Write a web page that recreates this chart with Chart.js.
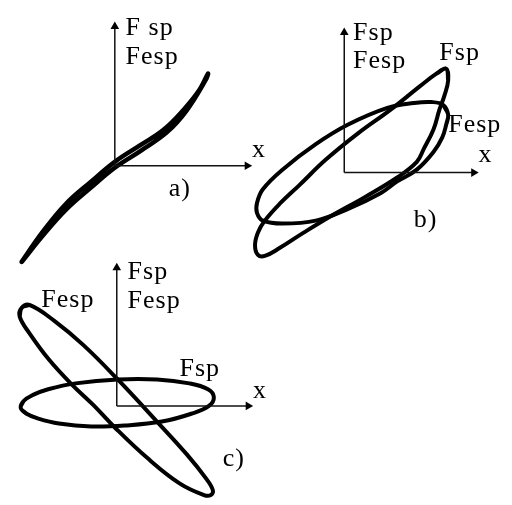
<!DOCTYPE html>
<html>
<head>
<meta charset="utf-8">
<script src="https://cdn.jsdelivr.net/npm/chart.js@4/dist/chart.umd.min.js"></script>
<style>
  html, body { margin: 0; padding: 0; background: #fff; }
  canvas { display: block; }
</style>
</head>
<body>
<canvas id="loops" width="512" height="505"></canvas>
<script>
// ------------------------------
// Data
// (local units: origin of each panel's axes, y pointing up)
// ------------------------------

// a) thin hysteresis loop, upper branch then lower branch
const loopA = [
  [-95, -98], [-74, -68], [-50, -39], [-24, -16], [0, 4], [26, 21], [50, 37],
  [70, 57], [86, 77], [95, 94],
  [93, 88], [73, 56], [53, 34], [26, 15], [0, -2], [-24, -22], [-50, -45],
  [-74, -72], [-94, -97]
];

// b) Fsp – the tall tilted ellipse
const loopBsp = [
  [104, 106], [106, 94], [102, 78], [97, 64], [91, 44], [81, 24], [74, 11],
  [54, -5], [21, -25], [-13, -44], [-41, -61], [-66, -77], [-81, -85],
  [-88, -84], [-91, -74], [-88, -61], [-81, -49], [-66, -32], [-46, -13],
  [-19, 13], [14, 40], [47, 64], [77, 88], [94, 101]
];

// b) Fesp – the flatter ellipse
const loopBesp = [
  [106, 59], [104, 49], [100, 36], [91, 21], [74, 3], [54, -9], [37, -21],
  [4, -37], [-29, -49], [-63, -52], [-83, -49], [-89, -41], [-89, -31],
  [-83, -17], [-63, 3], [-29, 29], [4, 49], [44, 66], [71, 71], [89, 72],
  [101, 69]
];

// c) Fsp – horizontal ellipse
const loopCsp = [
  [-98, -2], [-95, 5], [-86, 11], [-70, 17], [-42, 23], [1, 27], [41, 27],
  [74, 23], [93, 17], [99, 9], [94, 0], [76, -8], [46, -16], [8, -20],
  [-26, -21], [-59, -18], [-80, -13], [-92, -8]
];

// c) Fesp – ellipse falling to the right
const loopCesp = [
  [-97, 100], [-89, 103], [-64, 87], [-34, 62], [1, 27], [41, -16], [71, -49],
  [91, -74], [98, -86], [96, -91], [89, -91], [64, -79], [31, -53], [-2, -22],
  [-24, 1], [-46, 22], [-69, 47], [-89, 74], [-99, 91]
];

// axis lengths (x axis, y axis) of each panel
const axisLenA = [140, 147];
const axisLenB = [137, 148];
const axisLenC = [139, 146];

// texts of each panel
const textA = ['F sp', 'Fesp', 'x', 'a)'];
const textB = ['Fsp', 'Fesp', 'Fsp', 'Fesp', 'x', 'b)'];
const textC = ['Fsp', 'Fesp', 'Fesp', 'Fsp', 'x', 'c)'];

// ------------------------------
// Layout (page units, y up, chart covers the whole picture)
// ------------------------------
const origins = { a: [112, 341], b: [346, 334], c: [114, 96] };
const textPosA = [[11, 133], [11, 104], [140, 9], [55, -31]];
const textPosB = [[9, 135], [9, 107], [97, 115], [106, 41], [137, 11], [71, -55]];
const textPosC = [[11, 129], [11, 100], [-77, 101], [64, 30], [139, 8], [108, -61]];

const ARROW = 5;   // radius of arrow heads

function place(panel, pts) {
  const [ox, oy] = origins[panel];
  return pts.map(([x, y]) => ({ x: ox + x, y: oy + y }));
}

// close a loop smoothly: wrap the neighbours around both ends
function closed(panel, pts) {
  const wrapped = [pts[pts.length - 1], ...pts, pts[0], pts[1]];
  return place(panel, wrapped);
}

function loopDataset(panel, pts, width) {
  return {
    data: closed(panel, pts),
    showLine: true,
    borderColor: '#000',
    borderWidth: width || 4,
    tension: 0.4,
    pointRadius: 0,
    fill: false
  };
}

function axisDatasets(panel, len) {
  const [lx, ly] = len;
  const base = {
    showLine: true,
    borderColor: '#111',
    borderWidth: 1.5,
    pointStyle: 'triangle',
    pointRadius: [0, ARROW],
    pointBackgroundColor: '#000',
    pointBorderColor: '#000',
    pointBorderWidth: 0
  };
  return [
    Object.assign({}, base, { data: place(panel, [[0, 0], [lx - ARROW, 0]]), rotation: [0, 90] }),
    Object.assign({}, base, { data: place(panel, [[0, 0], [0, ly - ARROW]]), rotation: [0, 0] })
  ];
}

// ------------------------------
// Text labels drawn through the scales
// ------------------------------
const textPlugin = {
  id: 'panelText',
  afterDatasetsDraw(chart) {
    const { ctx, scales } = chart;
    const groups = [['a', textA, textPosA], ['b', textB, textPosB], ['c', textC, textPosC]];
    ctx.save();
    ctx.fillStyle = '#000';
    ctx.font = '26px "Liberation Serif", "DejaVu Serif", serif';
    ctx.letterSpacing = '1px';
    ctx.textBaseline = 'alphabetic';
    ctx.textAlign = 'left';
    groups.forEach(([panel, texts, pos]) => {
      const [ox, oy] = origins[panel];
      texts.forEach((t, i) => {
        const px = scales.x.getPixelForValue(ox + pos[i][0]);
        const py = scales.y.getPixelForValue(oy + pos[i][1]);
        ctx.fillText(t, px, py);
      });
    });
    ctx.restore();
  }
};

new Chart(document.getElementById('loops'), {
  type: 'scatter',
  data: {
    datasets: [
      ...axisDatasets('a', axisLenA),
      ...axisDatasets('b', axisLenB),
      ...axisDatasets('c', axisLenC),
      loopDataset('a', loopA, 4.5),
      loopDataset('b', loopBsp),
      loopDataset('b', loopBesp),
      loopDataset('c', loopCsp),
      loopDataset('c', loopCesp)
    ]
  },
  options: {
    responsive: false,
    animation: false,
    devicePixelRatio: 1,
    layout: { padding: 0 },
    plugins: { legend: { display: false }, tooltip: { enabled: false } },
    scales: {
      x: { type: 'linear', min: 0, max: 512, display: false },
      y: { type: 'linear', min: 0, max: 505, display: false }
    }
  },
  plugins: [textPlugin]
});
</script>
</body>
</html>
